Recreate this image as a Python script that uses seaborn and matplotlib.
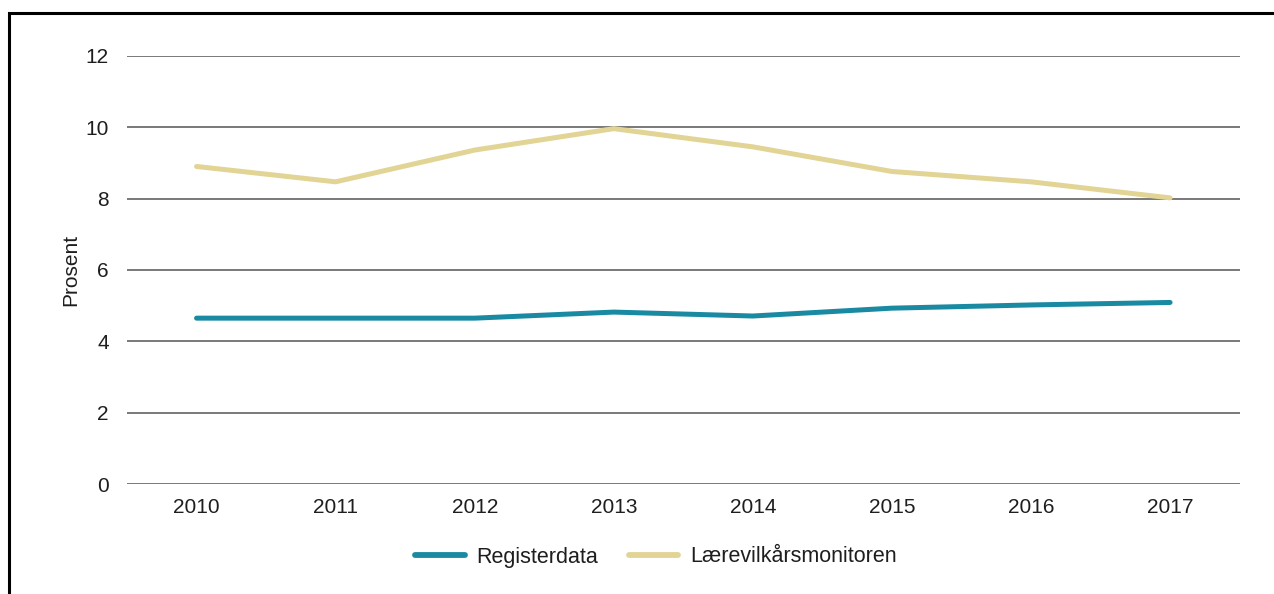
import pandas as pd
import matplotlib.pyplot as plt
import seaborn as sns
from matplotlib.patches import Rectangle

sns.set_theme(style="white")
plt.rcParams['font.family'] = ['Liberation Sans', 'DejaVu Sans']

years = ["2010", "2011", "2012", "2013", "2014", "2015", "2016", "2017"]
registerdata = [4.65, 4.65, 4.65, 4.82, 4.71, 4.93, 5.02, 5.09]
larevilkar = [8.90, 8.47, 9.36, 9.96, 9.45, 8.76, 8.47, 8.02]
series_names = ["Registerdata", "Lærevilkårsmonitoren"]
colors = ["#1a8aa3", "#e2d495"]

df = pd.DataFrame({"År": years * 2,
                   "Prosent": registerdata + larevilkar,
                   "Serie": [series_names[0]] * len(years) + [series_names[1]] * len(years)})

fig = plt.figure(figsize=(12.74, 5.94), dpi=100)
ax = fig.add_axes([0.0997, 0.185, 0.8733, 0.721])

sns.lineplot(data=df, x="År", y="Prosent", hue="Serie", palette=colors,
             linewidth=3.6, sort=False, ax=ax, legend=False)

ax.set_xlim(-0.5, len(years) - 0.5)
ax.set_ylim(0, 12)
ax.set_yticks(range(0, 13, 2))
ax.grid(axis="y", color="#555555", linewidth=1.1)
ax.set_axisbelow(True)
for s in ax.spines.values():
    s.set_visible(False)
ax.tick_params(axis="both", length=0, labelsize=15, colors="#1e1e1e")
ax.tick_params(axis="y", pad=13)
ax.tick_params(axis="x", pad=10)
ax.set_xlabel("")
ax.set_ylabel("Prosent", fontsize=15, color="#1e1e1e", labelpad=4)

handles = [plt.Line2D([], [], color=c, linewidth=4.2, solid_capstyle="round") for c in colors]
fig.legend(handles, series_names, loc="center", bbox_to_anchor=(656 / 1274, 1 - 557 / 594),
           ncol=2, frameon=False, fontsize=15.5, handlelength=2.3, handletextpad=0.55,
           columnspacing=1.4, labelcolor="#1e1e1e")

# ramme rundt figuren
fig.patches.append(Rectangle((9 / 1274, -0.05), 1.1, 1 - 13 / 594 + 0.05, transform=fig.transFigure,
                             fill=False, edgecolor="black", linewidth=2.2))

plt.savefig("out.png", dpi=100)
